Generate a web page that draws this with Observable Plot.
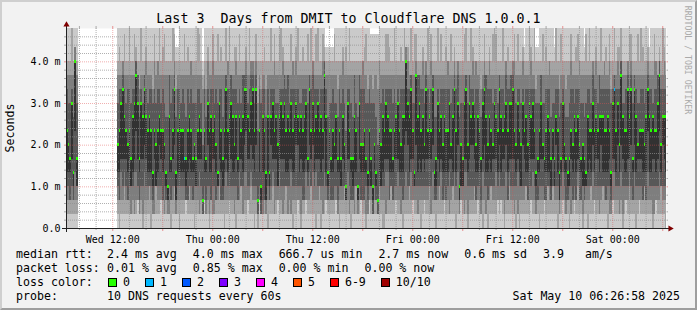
<!DOCTYPE html>
<html>
<head>
<meta charset="utf-8">
<script src="https://cdn.jsdelivr.net/npm/d3@7"></script>
<script src="https://cdn.jsdelivr.net/npm/@observablehq/plot@0.6"></script>
<style>
html, body { margin: 0; padding: 0; background: #f2f2f2; }
#chart { position: relative; width: 697px; height: 310px; background: #f2f2f2; overflow: hidden;
  font-family: "DejaVu Sans Mono", monospace; color: #000; }
#plot { position: absolute; left: 0; top: 0; }
#border { position: absolute; left: 0; top: 0; width: 697px; height: 310px; box-sizing: border-box;
  border-top: 2px solid #cfcfcf; border-left: 2px solid #cfcfcf; border-right: 2px solid #9e9e9e; border-bottom: 2px solid #9e9e9e; pointer-events: none; }
#title { position: absolute; left: 0; top: 11px; width: 697px; text-align: center; font-size: 13.3px; line-height: 16px; white-space: pre; }
.rot { position: absolute; white-space: pre; line-height: 1; }
#ylab { left: 11px; top: 127.5px; font-size: 11.6px; transform: translate(-50%, -50%) rotate(-90deg); }
#wm { left: 687.5px; top: 59.5px; font-size: 8.2px; color: #aaaaaa; transform: translate(-50%, -50%) rotate(90deg); }
.line { position: absolute; left: 16px; font-size: 11.6px; line-height: 14px; white-space: pre; }
.line span { display: inline-block; }
.head { width: 91px; }
.head3 { width: 92px; }
.piece { margin-right: 16px; }
.sq { width: 7px; height: 7px; border: 1px solid #000; margin-right: 6px; vertical-align: -1px; }
.sqlab { margin-right: 15px; }
#stamp { position: absolute; right: 17px; top: 288.5px; font-size: 11.6px; line-height: 14px; white-space: pre; }
</style>
</head>
<body>
<div id="chart">
  <div id="plot"></div>
  <div id="title"></div>
  <div id="ylab" class="rot"></div>
  <div id="wm" class="rot"></div>
  <div id="l1" class="line" style="top:247px"></div>
  <div id="l2" class="line" style="top:261px"></div>
  <div id="l3" class="line" style="top:275px"></div>
  <div id="l4" class="line" style="top:288.5px"></div>
  <div id="stamp"></div>
  <div id="border"></div>
</div>
<script>
// ---------- texts ----------
const titleText = "Last 3  Days from DMIT to Cloudflare DNS 1.0.0.1";
const yAxisTitle = "Seconds";
const watermark = "RRDTOOL / TOBI OETIKER";
const rttLabel = "median rtt:";
const rttStats = ["2.4 ms avg", "4.0 ms max", "666.7 us min", "2.7 ms now", "0.6 ms sd", "3.9   am/s"];
const lossLabel = "packet loss:";
const lossStats = ["0.01 % avg", "0.85 % max", "0.00 % min", "0.00 % now"];
const lossColorLabel = "loss color:";
const lossLabels = ["0", "1", "2", "3", "4", "5", "6-9", "10/10"];
const lossColors = ["#26ff00", "#00b8ff", "#0059ff", "#7e00ff", "#ff00ff", "#ff5500", "#ff0000", "#a00000"];
const probeLabel = "probe:";
const probeText = "10 DNS requests every 60s";
const stampText = "Sat May 10 06:26:58 2025";

// ---------- axes ----------
const rangeStart = "2025-05-07T06:26:58Z";
const rangeEnd = "2025-05-10T06:26:58Z";
const yMaxMs = 4.8;
const yTickValues = [0, 1, 2, 3, 4];
const yTickLabels = ["0.0", "1.0 m", "2.0 m", "3.0 m", "4.0 m"];
const xTickTimes = ["2025-05-07T12:00:00Z", "2025-05-08T00:00:00Z", "2025-05-08T12:00:00Z",
                    "2025-05-09T00:00:00Z", "2025-05-09T12:00:00Z", "2025-05-10T00:00:00Z"];
const xTickLabels = ["Wed 12:00", "Thu 00:00", "Thu 12:00", "Fri 00:00", "Fri 12:00", "Sat 00:00"];

// ---------- smoke colours (outer pair of pings -> inner pair) ----------
const smokeColors = ["#cacaca", "#a4a4a4", "#7e7e7e", "#585858", "#323232"];

// ---------- data ----------
// each string = the 10 sorted ping times of one 12-minute step,
// one hex digit per ping in units of 1/3 ms ("f" = above the top of the graph).
// The 6th ping is the median.
const stepMinutes = 12;
const seg1Start = "2025-05-07T06:27:00Z";
const seg1Pings = ["012347abcf","0123469bcf","0122459bcf","012359abff","0122348bcf","01247ccddf","0123359bcf"];
const seg2Start = "2025-05-07T12:34:00Z";
const seg2Pings = [
"0123469bcf","002247abdf","012459abcf","01235abccf","013458abef","0123579bcf","012246abcf","012357abff","0113359bcf","012348abcf",
"011459abef","01247bccdf","022359bbcf","0112458acf","012359abff","0013589bcf","01246abbcf","012358acdf","0123479bcf","013348abcf",
"002347abcf","0112349acf","011357acef","0133369bcf","012347accf","012368abff","0223579bcf","012247abdf","0113569bef","0122348bcf",
"0112238bcf","011348bbcf","0022459bcf","012357abff","01336abcef","0112248acd","012347abcd","002348abcf","0123479bcf","012347abcf",
"0123459bef","0222358bcf","012247abdf","0133589bcf","012347accf","0122459bcf","0023469bcf","0123359bcf","012357abff","011458abef",
"0123579bcf","0111226abc","022347abcf","0112458acf","012369acdf","0013479bcf","012248abcf","011357acef","0113589bcf","012246abcf",
"0123349bef","013459abcf","012247abdf","0122358bcf","002347abcf","01245abbff","012347accf","022368abff","012359bbcf","012348abcf",
"011346abdf","002358acdf","0122459bcf","012458abef","0133579bcf","011348bbcf","01246abbcf","01247abcdf","0223589bcf","012357abff",
"013469bccf","01235abccf","0023479bcf","01236abcef","00112279cf","022347abcf","0111239acf","011248abcf","012247abdf","0112248acf",
"002348abcf","0122348bcf","012368abff","013459abcf","011357acef","0123589bcf","0223369bcf","012458abef","012359abff","011358acdf",
"012359bbcf","013347abcf","011348bbcf","0123579bcf","011459abef","002347accf","012348abcf","012369acdf","022368abff","0123479bcf",
"0013589bcf","012247abdf","012248abcf","022459abcf","0123459bef","01246abbcf","013357abff","012469bccf","012347abcf","002458abef",
"012359abff","0133579bcf","002348abcf","011357acef","01247bccdf","022348abcd","0122348bcd","0123579bcd","0122459bcd","012247abcd",
"0123569bef","0223589bcf","0112458acf","002347abcf","0123359bcf","012358acdf","0133469bcf","0122237bdf","012459abcf","011357abff",
"0022459bcf","0122358bcf","011348bbcf","0133479bcf","0112238bcf","012359bbcf","022246abcf","012246accf","012247abdf","0013459bef",
"0112349acf","022347abcf","0123359bce","0111239ace","0123469bce","0122348bce","0111226ace","013347accf","0123369bcf","002348abcf",
"0023579bcf","011459abef","012458abef","012247abdf","013347abcf","0122459bcf","012357abff","0223589bcf","012459abcf","0123479bcf",
"011346abdf","002248abcf","012368abff","01247ccddf","012369acdf","013348abcf","01245abbff","0223579bcf","0123349bef","01236bbcef",
"011348bbcf","012359bbcf","002347abcf","012358acdf","0223469bcf","01235abccf","012357abff","0133589bcf","011357acef","01246abbcf",
"0122348bcf","0022358bcf","012359abff","0133479bcf","012458abef","012246abcf","022348abcf","012247abdf","012347accf","011459abcf",
"0123569bef","013348abcf","01247abcdf","002347abcf","012469bccf","0112238bcf","0223369bcf","0123359bcf","011459abef","01245abbff",
"0013469bcf","012359bbcf","012368abff","012369acdf","0133589bcf","012246accf","022348abcf","0123579bcf","0112458acf","002459abcf",
"01236abcef","011348bbcf","002246abcf","012358acdf","013347abcf","0123569bef","012359abff","012458abef","0223479bcf","01246abbcf",
"022348abcf","012357abff","0013589bcf","012469bccf","012247abdf","013459abcf","012359bbcf","01235abccf","011357acef","0023469bcf",
"011459abef","002347abcf","0123369bcf","012369acdf","0123579bcd","013348abcf","012246abcf","012359abff","022358acdf","012459abcf",
"012357abff","0112349acd","0122459bcd","0023479bcf","012359bbcf","0123569bef","0222459bcf","012247abdf","013348abcf","012347accf",
"0122358bcf","0133579bcf","0123359bcd","012368abff","002347abcf","0112248acf","0123459bef","022459abcf","0123469bcf","0112458acf",
"0122348bcf","0023359bcf","011357acef","012246abcf","0223589bcf","012247abdf","013458abef","012246accf","0122459bcf","0013369bcf",
"0122358bcd","0123349bef","002348abcf","012357abff","0133479bcf","012469bccf","022347abcf","012358acdf","0123579bcf","011348bbcf",
"012368abff","013348abcf","012347accf","012247abdf","002348abcf","011357acef","0112349acf","022459abcf","01245abbff","012347abcf",
"012369acdf","011346abdf","01246bccff","0013589bcf","0123479bcf","022347abcf","01235abccf","013458abef","01236abcef","0122459bcf",
"01246abbcf","002348abcf","0123569bef","0223579bcf","012357abff","012247abdf","0133469bcf","012248abcf","01247abcdf","012348abcd",
"012347abcf","0013589bcf","011357acef","022347accf","012359bbcf","01247bccdf","013346abcf","012368abff","012358acdf","002348abcf"
];
// steps (index into seg2Pings) where pings were lost, and how many
const lossStep = [40, 298];
const lossCount = [1, 1];

// ---------- build ----------
const t0 = new Date(rangeStart), tEnd = new Date(rangeEnd);
const stepMs = stepMinutes * 60000;
function buildSteps(start, list) {
  const s0 = +new Date(start);
  return list.map((code, i) => {
    const p = Array.from(code, c => parseInt(c, 16) / 3);
    return {t1: new Date(s0 + i * stepMs), t2: new Date(s0 + (i + 1) * stepMs), p, med: p[5], loss: 0};
  });
}
const s1 = buildSteps(seg1Start, seg1Pings);
const s2 = buildSteps(seg2Start, seg2Pings);
lossStep.forEach((k, i) => { s2[k].loss = lossCount[i]; });
const steps = s1.concat(s2);
function lossColorOf(n) { return lossColors[n <= 5 ? n : (n < 10 ? 6 : 7)]; }

const bandMarks = smokeColors.map((color, b) =>
  Plot.rect(steps, {x1: "t1", x2: "t2", y1: d => d.p[b], y2: d => d.p[9 - b],
    fill: color, clip: true, shapeRendering: "crispEdges"}));

const xMajor = d3.utcHour.every(6).range(t0, tEnd);
const xMinor = d3.utcHour.every(2).range(t0, tEnd).filter(d => d.getUTCHours() % 6 !== 0);
const yGrid = d3.range(1, 24).map(i => i / 5);
const yMajor = yGrid.filter(v => Math.abs(v - Math.round(v)) < 1e-6);
const yMinor = yGrid.filter(v => Math.abs(v - Math.round(v)) >= 1e-6);
const gridColor = "#8f8f8f", mgridColor = "#de4f4f";

const xLabelMap = new Map(xTickTimes.map((d, i) => [+new Date(d), xTickLabels[i]]));
const yLabelMap = new Map(yTickValues.map((v, i) => [v, yTickLabels[i]]));

const chart = Plot.plot({
  width: 697, height: 310,
  marginLeft: 66, marginRight: 31, marginTop: 28, marginBottom: 82,
  style: {background: "transparent", fontFamily: "'DejaVu Sans Mono', monospace", fontSize: "10px", color: "#000", overflow: "visible"},
  x: {type: "utc", domain: [t0, tEnd], label: null, clamp: true},
  y: {domain: [0, yMaxMs], label: null, clamp: true},
  color: {type: "identity"},
  marks: [
    Plot.ruleX(xMinor, {stroke: gridColor, strokeOpacity: 0.75, insetTop: -2, insetBottom: -2}),
    Plot.ruleX(xMajor, {stroke: mgridColor, strokeOpacity: 0.6, insetTop: -2, insetBottom: -3}),
    Plot.ruleY(yMinor, {stroke: gridColor, strokeOpacity: 0.75, insetLeft: -2, insetRight: -2}),
    Plot.ruleY(yMajor, {stroke: mgridColor, strokeOpacity: 0.6, insetLeft: -2, insetRight: -2}),
    Plot.frame({fill: "white", stroke: "none"}),
    ...bandMarks,
    Plot.rect(steps, {x1: "t1", x2: "t2", y1: d => d.med - 0.036, y2: d => d.med + 0.036,
      fill: d => lossColorOf(d.loss), clip: true, shapeRendering: "crispEdges"}),
    Plot.ruleX(xMinor, {stroke: gridColor, strokeOpacity: 0.7, strokeDasharray: "1 1"}),
    Plot.ruleY(yMinor, {stroke: gridColor, strokeOpacity: 0.7, strokeDasharray: "1 1"}),
    Plot.ruleX(xMajor, {stroke: mgridColor, strokeOpacity: 0.45, strokeDasharray: "1 1"}),
    Plot.ruleY(yMajor, {stroke: mgridColor, strokeOpacity: 0.45, strokeDasharray: "1 1"}),
    Plot.ruleY([0], {stroke: "#212121", insetLeft: -4, insetRight: -4}),
    Plot.ruleX([t0], {stroke: "#212121", insetTop: -4, insetBottom: -4}),
    Plot.dot([tEnd], {x: d => d, y: () => 0, symbol: "triangle", r: 2.3, fill: "#800000", stroke: "none", rotate: 90, dx: 3.7}),
    Plot.dot([t0], {x: d => d, y: () => yMaxMs, symbol: "triangle", r: 2.3, fill: "#800000", stroke: "none", dy: -3.7}),
    Plot.axisX({ticks: xTickTimes.map(d => new Date(d)), tickFormat: d => xLabelMap.get(+d), tickSize: 0, tickPadding: 7, label: null, fontSize: 10}),
    Plot.axisY({ticks: yTickValues, tickFormat: v => yLabelMap.get(v), tickSize: 0, tickPadding: 6, label: null, fontSize: 10})
  ]
});
document.getElementById("plot").appendChild(chart);

// ---------- html texts ----------
document.getElementById("title").textContent = titleText;
document.getElementById("ylab").textContent = yAxisTitle;
document.getElementById("wm").textContent = watermark;
function span(cls, text) { const s = document.createElement("span"); s.className = cls; s.textContent = text; return s; }
function statLine(id, head, items) {
  const el = document.getElementById(id);
  el.appendChild(span("head", head));
  items.forEach(t => el.appendChild(span("piece", t)));
}
statLine("l1", rttLabel, rttStats);
statLine("l2", lossLabel, lossStats);
const l3 = document.getElementById("l3");
l3.appendChild(span("head3", lossColorLabel));
lossLabels.forEach((lab, i) => {
  const sq = span("sq", "");
  sq.style.background = lossColors[i];
  l3.appendChild(sq);
  l3.appendChild(span("sqlab", lab));
});
statLine("l4", probeLabel, [probeText]);
document.getElementById("stamp").textContent = stampText;
</script>
</body>
</html>
